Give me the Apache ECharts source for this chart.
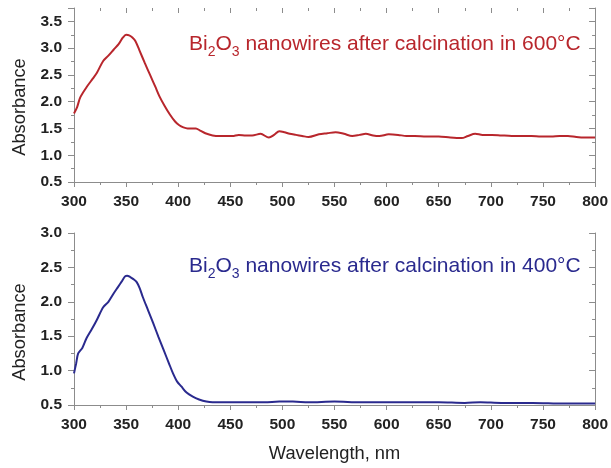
<!DOCTYPE html>
<html><head><meta charset="utf-8">
<script src="https://cdn.jsdelivr.net/npm/echarts@6/dist/echarts.min.js"></script>
<style>html,body{margin:0;padding:0;background:#fff}#c{width:611px;height:468px}</style>
</head><body><div id="c"></div>
<script>
// Top panel: 600°C
const wl600  = [300, 303, 306, 312, 318, 322, 328, 333, 338, 343, 347, 350, 353, 356, 359, 363, 368, 373, 378, 382, 387, 392, 397, 401, 405, 409, 413, 417, 421, 426, 433, 440, 446, 452, 458, 465, 471, 479, 487, 492, 497, 502, 507, 513, 519, 525, 535, 543, 551, 559, 567, 574, 580, 587, 593, 602, 611, 619, 627, 638, 650, 661, 672, 678, 685, 692, 701, 710, 720, 730, 739, 748, 758, 766, 774, 782, 790, 800];
const abs600 = [1.78, 1.90, 2.08, 2.27, 2.43, 2.54, 2.76, 2.86, 2.97, 3.08, 3.20, 3.25, 3.24, 3.20, 3.13, 2.95, 2.72, 2.50, 2.28, 2.10, 1.92, 1.76, 1.63, 1.56, 1.52, 1.50, 1.50, 1.50, 1.46, 1.41, 1.37, 1.36, 1.36, 1.36, 1.38, 1.37, 1.37, 1.40, 1.33, 1.38, 1.45, 1.43, 1.40, 1.38, 1.36, 1.34, 1.39, 1.41, 1.43, 1.40, 1.36, 1.38, 1.40, 1.37, 1.36, 1.39, 1.38, 1.36, 1.36, 1.35, 1.35, 1.33, 1.32, 1.36, 1.40, 1.38, 1.38, 1.37, 1.36, 1.36, 1.36, 1.35, 1.35, 1.36, 1.36, 1.34, 1.33, 1.33];
// Bottom panel: 400°C
const wl400  = [300, 302, 304, 308, 312, 317, 322, 328, 333, 338, 342, 346, 349, 351, 354, 357, 360, 363, 366, 371, 376, 381, 386, 391, 395, 399, 403, 408, 414, 420, 427, 433, 440, 455, 468, 483, 497, 510, 525, 550, 575, 600, 625, 650, 675, 690, 710, 740, 770, 800];
const abs400 = [0.96, 1.10, 1.25, 1.33, 1.47, 1.60, 1.74, 1.92, 2.00, 2.12, 2.21, 2.30, 2.37, 2.38, 2.36, 2.33, 2.29, 2.20, 2.07, 1.88, 1.69, 1.49, 1.30, 1.11, 0.96, 0.84, 0.77, 0.68, 0.62, 0.58, 0.55, 0.54, 0.54, 0.54, 0.54, 0.54, 0.55, 0.55, 0.54, 0.55, 0.54, 0.54, 0.54, 0.54, 0.53, 0.54, 0.53, 0.53, 0.52, 0.52];

const xTickMin = 300, xTickMax = 800, xTickStep = 50;
const yLabels = ['Absorbance', 'Absorbance'];
const xLabel = 'Wavelength, nm';
const titles = [
  {pre: 'Bi', s1: '2', mid: 'O', s2: '3', post: ' nanowires after calcination in 600°C'},
  {pre: 'Bi', s1: '2', mid: 'O', s2: '3', post: ' nanowires after calcination in 400°C'}
];

const RED = '#b8262c', BLUE = '#2a2a8e';
const FONT = 'Liberation Sans, Arial, sans-serif';
const axisGray = '#8c8c8c';
const lblStyle = {fontFamily: FONT, fontWeight: 'bold', fontSize: 15.5, color: '#222'};

function pairs(xs, ys){ return xs.map((x,i)=>[x, ys[i]]); }

const chart = echarts.init(document.getElementById('c'), null, {renderer: 'canvas'});

function xAx(gi, pos, showLabel, showLine, showTick){
  return {
    type: 'value', gridIndex: gi, position: pos, min: xTickMin, max: xTickMax, interval: xTickStep,
    axisLine: {show: showLine, lineStyle: {color: axisGray, width: 1}},
    axisTick: {show: showTick, inside: pos === 'top', length: 5, lineStyle: {color: axisGray}},
    minorTick: {show: showTick, splitNumber: 2, length: 3, lineStyle: {color: axisGray}},
    axisLabel: Object.assign({show: showLabel, margin: 12}, lblStyle),
    splitLine: {show: false}
  };
}
function yAx(gi, pos, max, showLabel){
  return {
    type: 'value', gridIndex: gi, position: pos, min: 0.5, max: max, interval: 0.5,
    axisLine: {show: true, lineStyle: {color: axisGray, width: 1}},
    axisTick: {show: true, inside: pos === 'right', length: 6, lineStyle: {color: axisGray}},
    minorTick: {show: true, splitNumber: 2, length: 3, lineStyle: {color: axisGray}},
    axisLabel: Object.assign({show: showLabel, margin: 12,
      formatter: v => (Math.abs(v*2 - Math.round(v*2)) < 1e-6 ? v.toFixed(1) : '')}, lblStyle),
    splitLine: {show: false}
  };
}

function richTitle(t){
  return '{n|' + t.pre + '}{s|' + t.s1 + '}{n|' + t.mid + '}{s|' + t.s2 + '}{n|' + t.post + '}';
}
function titleRich(col){
  return {n: {fontFamily: FONT, fontSize: 21, fill: col, lineHeight: 30},
          s: {fontFamily: FONT, fontSize: 14, fill: col, lineHeight: 30, padding: [17,0,0,0]}};
}

const option = {
  animation: false,
  backgroundColor: '#fff',
  grid: [
    {left: 74, right: 14, top: 8, height: 174},
    {left: 74, right: 14, top: 233, height: 172}
  ],
  xAxis: [
    xAx(0, 'bottom', true, true, true),
    xAx(0, 'top', false, false, true),
    Object.assign(xAx(1, 'bottom', true, true, true), {
      name: xLabel, nameLocation: 'middle', nameGap: 40,
      nameTextStyle: {fontFamily: FONT, fontSize: 18.3, color: '#222'}
    })
  ],
  yAxis: [
    yAx(0, 'left', 3.75, true),
    yAx(0, 'right', 3.75, false),
    yAx(1, 'left', 3.0, true),
    yAx(1, 'right', 3.0, false)
  ],
  series: [
    {type: 'line', xAxisIndex: 0, yAxisIndex: 0, data: pairs(wl600, abs600), showSymbol: false,
     smooth: 0.3, lineStyle: {color: RED, width: 2}},
    {type: 'line', xAxisIndex: 2, yAxisIndex: 2, data: pairs(wl400, abs400), showSymbol: false,
     smooth: 0.3, lineStyle: {color: BLUE, width: 2}}
  ],
  graphic: [
    {type: 'text', rotation: Math.PI/2, x: 20, y: 107,
     style: {text: yLabels[0], font: '18.3px ' + FONT, fill: '#222', align: 'center', verticalAlign: 'middle'}},
    {type: 'text', rotation: Math.PI/2, x: 20, y: 332,
     style: {text: yLabels[1], font: '18.3px ' + FONT, fill: '#222', align: 'center', verticalAlign: 'middle'}},
    {type: 'text', x: 189, y: 44,
     style: {text: richTitle(titles[0]), fill: RED, verticalAlign: 'middle', rich: titleRich(RED)}},
    {type: 'text', x: 189, y: 266,
     style: {text: richTitle(titles[1]), fill: BLUE, verticalAlign: 'middle', rich: titleRich(BLUE)}}
  ]
};
chart.setOption(option);
</script></body></html>
